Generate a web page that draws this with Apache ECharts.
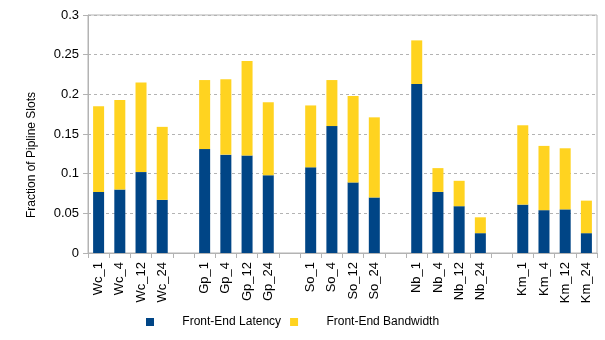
<!DOCTYPE html>
<html>
<head>
    <meta charset="utf-8">
    <title>Front-End stalls</title>
    <script src="https://cdn.jsdelivr.net/npm/echarts@6.0.0/dist/echarts.min.js"></script>
    <style>
        html, body { margin: 0; padding: 0; background: #fff; }
    </style>
</head>
<body>
    <div id="main" style="width: 605px; height: 340px;"></div>

    <script>
        // empty strings are the gaps between benchmark groups
        const categories = [
            'Wc_1', 'Wc_4', 'Wc_12', 'Wc_24', '',
            'Gp_1', 'Gp_4', 'Gp_12', 'Gp_24', '',
            'So_1', 'So_4', 'So_12', 'So_24', '',
            'Nb_1', 'Nb_4', 'Nb_12', 'Nb_24', '',
            'Km_1', 'Km_4', 'Km_12', 'Km_24'
        ];
        const latency = [
            0.077, 0.080, 0.102, 0.067, '-',
            0.131, 0.124, 0.123, 0.098, '-',
            0.108, 0.160, 0.089, 0.070, '-',
            0.213, 0.077, 0.059, 0.025, '-',
            0.061, 0.054, 0.055, 0.025
        ];
        const bandwidth = [
            0.108, 0.113, 0.113, 0.092, '-',
            0.087, 0.095, 0.119, 0.092, '-',
            0.078, 0.058, 0.109, 0.101, '-',
            0.055, 0.030, 0.032, 0.020, '-',
            0.100, 0.081, 0.077, 0.041
        ];
        const yTicks = [0, 0.05, 0.1, 0.15, 0.2, 0.25, 0.3];

        const font = 'Liberation Sans';
        const chart = echarts.init(document.getElementById('main'), null, { renderer: 'canvas' });

        chart.setOption({
            animation: false,
            textStyle: { fontFamily: font },
            grid: {
                left: 88, right: 8, top: 15, bottom: 87,
                show: true,
                borderColor: '#b3b3b3',
                borderWidth: 1
            },
            legend: {
                top: 316,
                left: 146,
                padding: 0,
                icon: 'rect',
                itemWidth: 8,
                itemHeight: 8,
                itemGap: 9,
                textStyle: { fontFamily: font, fontSize: 12, color: '#000' },
                formatter: name => '       ' + name,
                data: ['Front-End Latency', 'Front-End Bandwidth']
            },
            xAxis: {
                type: 'category',
                data: categories,
                axisLine: { lineStyle: { color: '#b3b3b3' } },
                axisTick: { show: true, interval: 0, length: 5, lineStyle: { color: '#b3b3b3' } },
                axisLabel: {
                    interval: 0,
                    rotate: 90,
                    margin: 9,
                    fontFamily: font,
                    fontSize: 13,
                    color: '#000'
                }
            },
            yAxis: {
                type: 'value',
                min: 0,
                max: 0.3,
                interval: 0.05,
                name: 'Fraction of Pipline Slots',
                nameLocation: 'middle',
                nameGap: 50,
                nameTextStyle: { fontFamily: font, fontSize: 12, color: '#000', padding: [0, 42, 0, 0] },
                axisLine: { show: true, lineStyle: { color: '#b3b3b3' } },
                axisTick: { show: true, length: 5, lineStyle: { color: '#b3b3b3' } },
                axisLabel: {
                    fontFamily: font,
                    fontSize: 13,
                    color: '#000',
                    margin: 9,
                    formatter: v => yTicks.includes(+v.toFixed(2)) ? String(+v.toFixed(2)) : ''
                },
                splitLine: { lineStyle: { color: '#b3b3b3', type: [3, 3] } }
            },
            series: [
                {
                    name: 'Front-End Latency',
                    type: 'bar',
                    stack: 'fe',
                    barWidth: 11,
                    itemStyle: { color: '#004586' },
                    data: latency
                },
                {
                    name: 'Front-End Bandwidth',
                    type: 'bar',
                    stack: 'fe',
                    barWidth: 11,
                    itemStyle: { color: '#ffd320' },
                    data: bandwidth
                }
            ]
        });
    </script>
</body>
</html>
